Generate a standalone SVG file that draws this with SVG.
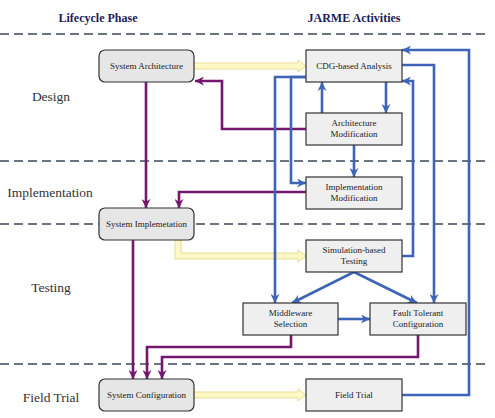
<svg xmlns="http://www.w3.org/2000/svg" width="495" height="418" viewBox="0 0 495 418">
<style>
.hdr{font-family:'Liberation Serif','Times New Roman',Times,'DejaVu Serif',serif;font-weight:bold;font-size:12px;fill:#1c1c5c;text-anchor:middle}
.phase{font-family:'Liberation Serif','Times New Roman',Times,'DejaVu Serif',serif;font-size:13.5px;fill:#333;text-anchor:middle}
.lbl{font-family:'Liberation Serif','Times New Roman',Times,'DejaVu Serif',serif;font-size:9px;fill:#222;text-anchor:middle}
.dash{stroke:#3a4858;stroke-width:1.5;stroke-dasharray:9,5;fill:none}
.lc{fill:#e6e6e6;stroke:#333;stroke-width:1.2}
.act{fill:#efefef;stroke:#333;stroke-width:1.2}
.pu{stroke:#74176f;stroke-width:2.6;fill:none;marker-end:url(#ap)}
.bl{stroke:#3e64b8;stroke-width:2.6;fill:none;marker-end:url(#ab)}
.yl{fill:#fdf8c6;stroke:#e8dc94;stroke-width:1}
</style>
<defs>
<marker id="ap" markerUnits="userSpaceOnUse" viewBox="0 0 10 10" refX="10" refY="5" markerWidth="10" markerHeight="9" orient="auto">
<path d="M0,0 L10,5 L0,10 L3,5 z" fill="#74176f"/>
</marker>
<marker id="ab" markerUnits="userSpaceOnUse" viewBox="0 0 10 10" refX="10" refY="5" markerWidth="10" markerHeight="9" orient="auto">
<path d="M0,0 L10,5 L0,10 L3,5 z" fill="#3e64b8"/>
</marker>
</defs>
<rect width="495" height="418" fill="#fff"/>
<g id="headers">
<text class="hdr" x="98" y="22">Lifecycle Phase</text>
<text class="hdr" x="354" y="22">JARME Activities</text>
</g>
<g id="separators">
<line class="dash" x1="0" y1="34" x2="485" y2="34"/>
<line class="dash" x1="0" y1="161" x2="485" y2="161"/>
<line class="dash" x1="0" y1="224" x2="485" y2="224"/>
<line class="dash" x1="0" y1="364" x2="485" y2="364"/>
</g>
<g id="phases">
<text class="phase" x="51" y="101">Design</text>
<text class="phase" x="50" y="197">Implementation</text>
<text class="phase" x="51" y="292">Testing</text>
<text class="phase" x="51" y="402">Field Trial</text>
</g>
<g id="connectors">
<path class="yl" d="M194,63 L298,63 L298,60 L306,66 L298,72 L298,69 L194,69 Z"/>
<path class="yl" d="M175,240 L175,259 L298,259 L298,262 L306,256 L298,250 L298,253 L181,253 L181,240 Z"/>
<path class="yl" d="M194,392 L298,392 L298,389 L306,395 L298,401 L298,398 L194,398 Z"/>
<path class="pu" d="M306,129 L222,129 L222,81 L195,81"/>
<path class="pu" d="M146,82 L146,208"/>
<path class="pu" d="M306,192 L179,192 L179,208"/>
<path class="pu" d="M133,240 L133,379"/>
<path class="pu" d="M291,335 L291,347 L147,347 L147,379"/>
<path class="pu" d="M418,335 L418,357 L162,357 L162,379"/>
<path class="bl" d="M386,82 L386,113"/>
<path class="bl" d="M322,113 L322,82"/>
<path class="bl" d="M354,145 L354,177"/>
<path class="bl" d="M306,77 L291,77 L291,183 L306,183"/>
<path class="bl" d="M306,77 L275,77 L275,303"/>
<path class="bl" d="M402,65 L434,65 L434,303"/>
<path class="bl" d="M402,256 L413,256 L413,81 L402,81"/>
<path class="bl" d="M402,395 L469,395 L469,50 L402,50"/>
<path class="bl" d="M354,272 L292,303"/>
<path class="bl" d="M354,272 L417,303"/>
<path class="bl" d="M338,319 L370,319"/>
</g>
<g id="system-architecture">
<rect class="lc" x="99" y="50" width="95" height="32" rx="6"/>
<text class="lbl" x="146.5" y="69">System Architecture</text>
</g>
<g id="system-implementation">
<rect class="lc" x="99" y="208" width="95" height="32" rx="6"/>
<text class="lbl" x="146.5" y="227">System Implemetation</text>
</g>
<g id="system-configuration">
<rect class="lc" x="99" y="379" width="95" height="32" rx="6"/>
<text class="lbl" x="146.5" y="398">System Configuration</text>
</g>
<g id="cdg-analysis">
<rect class="act" x="306" y="50" width="96" height="32"/>
<text class="lbl" x="354" y="69">CDG-based Analysis</text>
</g>
<g id="architecture-modification">
<rect class="act" x="306" y="113" width="96" height="32"/>
<text class="lbl" x="354" y="126">Architecture<tspan x="354" dy="11">Modification</tspan></text>
</g>
<g id="implementation-modification">
<rect class="act" x="306" y="177" width="96" height="32"/>
<text class="lbl" x="354" y="190">Implementation<tspan x="354" dy="11">Modification</tspan></text>
</g>
<g id="simulation-testing">
<rect class="act" x="306" y="240" width="96" height="32"/>
<text class="lbl" x="354" y="253">Simulation-based<tspan x="354" dy="11">Testing</tspan></text>
</g>
<g id="middleware-selection">
<rect class="act" x="243" y="303" width="95" height="32"/>
<text class="lbl" x="290.5" y="316">Middleware<tspan x="290.5" dy="11">Selection</tspan></text>
</g>
<g id="fault-tolerant-configuration">
<rect class="act" x="370" y="303" width="96" height="32"/>
<text class="lbl" x="418" y="316">Fault Tolerant<tspan x="418" dy="11">Configuration</tspan></text>
</g>
<g id="field-trial">
<rect class="act" x="306" y="379" width="96" height="32"/>
<text class="lbl" x="354" y="398">Field Trial</text>
</g>
</svg>
